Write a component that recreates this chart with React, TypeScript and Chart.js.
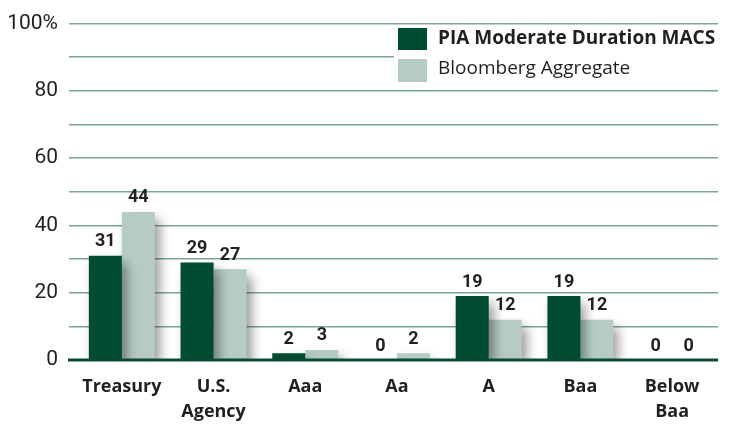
import React, { useEffect, useRef } from "react";
import { Chart, registerables } from "chart.js";
Chart.register(...registerables);

const categories: string[][] = [["Treasury"], ["U.S.", "Agency"], ["Aaa"], ["Aa"], ["A"], ["Baa"], ["Below", "Baa"]];
const piaValues = [31, 29, 2, 0, 19, 19, 0];
const bloombergValues = [44, 27, 3, 2, 12, 12, 0];
const seriesNames = ["PIA Moderate Duration MACS", "Bloomberg Aggregate"];
const yTickLabels: Record<number, string> = { 0: "0", 20: "20", 40: "40", 60: "60", 80: "80", 100: "100%" };

const DARK = "#004b33";
const LIGHT = "#b5cbc3";
const GRID = "#7ba596";
const TEXT = "#231f20";
const NARROW = "Roboto, 'Open Sans', sans-serif";
const MAIN = "'Open Sans', 'Liberation Sans', sans-serif";

const shadowPlugin = {
  id: "shadowPlugin",
  beforeDatasetsDraw(chart: any) {
    const ctx = chart.ctx;
    ctx.save();
    ctx.shadowColor = "rgba(0,0,0,0.42)";
    ctx.shadowBlur = 11;
    ctx.shadowOffsetX = 5;
    ctx.shadowOffsetY = 7;
  },
  afterDatasetsDraw(chart: any) {
    const ctx = chart.ctx;
    ctx.restore();
    const { left, right } = chart.chartArea;
    const y0 = chart.scales.y.getPixelForValue(0);
    ctx.save();
    ctx.strokeStyle = "#0b4a35";
    ctx.lineWidth = 3;
    ctx.beginPath();
    ctx.moveTo(left - 8, y0);
    ctx.lineTo(right, y0);
    ctx.stroke();
    // data labels
    ctx.fillStyle = TEXT;
    ctx.font = `bold 18px ${NARROW}`;
    ctx.textAlign = "center";
    ctx.textBaseline = "bottom";
    chart.data.datasets.forEach((ds: any, i: number) => {
      const meta = chart.getDatasetMeta(i);
      meta.data.forEach((bar: any, j: number) => {
        ctx.fillText(String(ds.data[j]), bar.x, bar.y - 5);
      });
    });
    ctx.restore();
  },
};

const legendPlugin = {
  id: "legendBox",
  afterDraw(chart: any) {
    const ctx = chart.ctx;
    const y = chart.scales.y;
    ctx.save();
    const top = y.getPixelForValue(100) + 2;
    const bottom = y.getPixelForValue(80) - 2;
    ctx.fillStyle = "#ffffff";
    ctx.fillRect(394, top, 330, bottom - top);
    ctx.fillStyle = DARK;
    ctx.fillRect(398, 28, 29, 22);
    ctx.fillStyle = LIGHT;
    ctx.fillRect(398, 59, 29, 23);
    ctx.fillStyle = TEXT;
    ctx.textBaseline = "middle";
    ctx.textAlign = "left";
    ctx.font = `bold 19px ${MAIN}`;
    ctx.fillText(seriesNames[0], 438, 39);
    ctx.font = `19px ${MAIN}`;
    ctx.fillText(seriesNames[1], 438, 69);
    ctx.restore();
  },
};

export default function App() {
  const ref = useRef<HTMLCanvasElement>(null);
  useEffect(() => {
    if (!ref.current) return;
    const chart = new Chart(ref.current, {
      type: "bar",
      data: {
        labels: categories,
        datasets: [
          { label: seriesNames[0], data: piaValues, backgroundColor: DARK, categoryPercentage: 0.72, barPercentage: 1 },
          { label: seriesNames[1], data: bloombergValues, backgroundColor: LIGHT, categoryPercentage: 0.72, barPercentage: 1 },
        ],
      },
      options: {
        animation: false,
        responsive: false,
        maintainAspectRatio: false,
        layout: { padding: { top: 6, right: 12, left: 0, bottom: 0 } },
        plugins: { legend: { display: false }, tooltip: { enabled: false } },
        scales: {
          x: {
            grid: { display: false },
            border: { display: false },
            ticks: { color: TEXT, font: { family: MAIN, size: 18, weight: "bold", lineHeight: 1.4 }, padding: 6, maxRotation: 0, autoSkip: false },
            afterFit(scale: any) { scale.height = 64; },
          },
          y: {
            min: 0,
            max: 100,
            border: { display: false },
            grid: { color: GRID, lineWidth: 1.5, tickLength: 7, tickColor: GRID },
            ticks: {
              stepSize: 10,
              color: TEXT,
              padding: 11,
              font: { family: NARROW, size: 21 },
              callback: (v: any) => (yTickLabels[v] !== undefined ? yTickLabels[v] : ""),
            },
            afterFit(scale: any) { scale.width = 76; },
          },
        },
      },
      plugins: [shadowPlugin, legendPlugin],
    } as any);
    return () => chart.destroy();
  }, []);
  return (
    <div style={{ position: "fixed", left: 0, top: 0, width: 730, height: 424, background: "#fff" }}>
      <canvas ref={ref} width={730} height={424} style={{ width: 730, height: 424 }} />
    </div>
  );
}
